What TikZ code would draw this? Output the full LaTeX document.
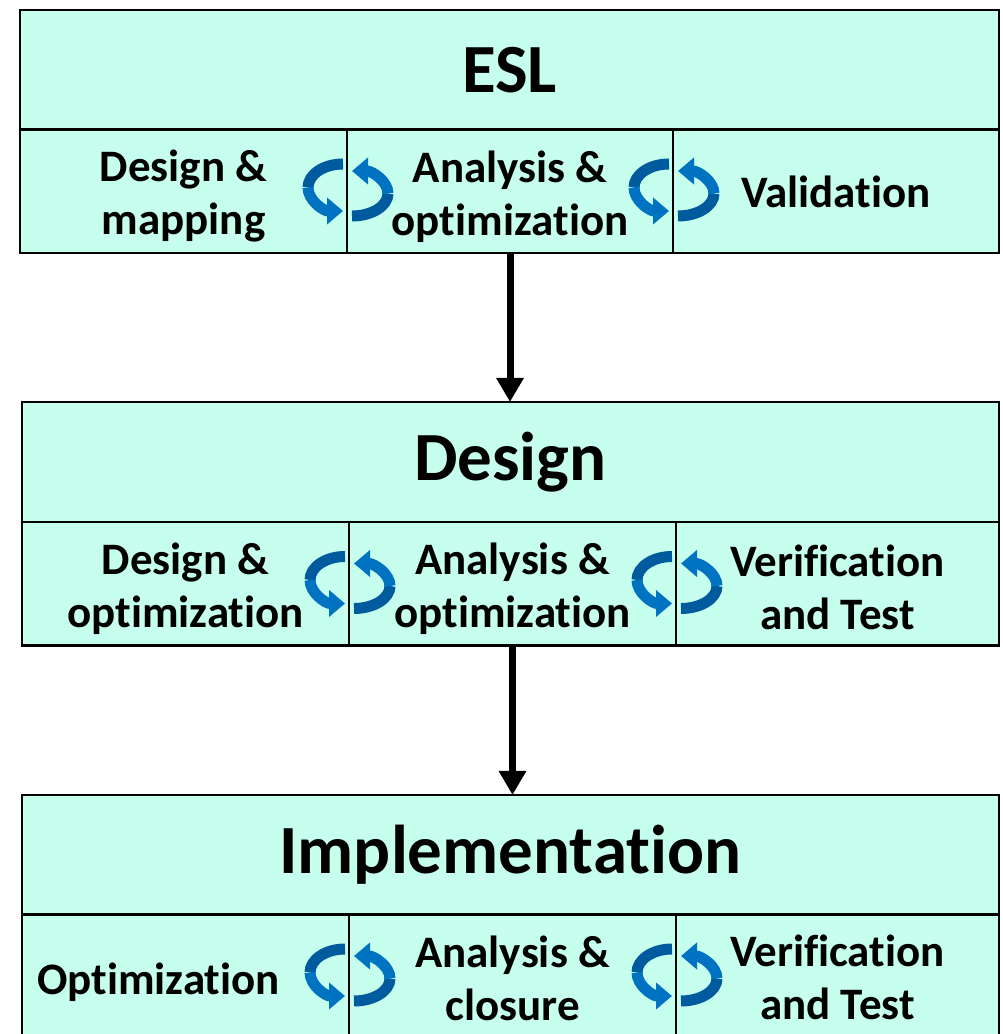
\documentclass[tikz,border=0pt]{standalone}
\usepackage{fontspec}
\setmainfont[Ligatures=NoCommon]{Carlito}
\usetikzlibrary{arrows.meta}
\definecolor{mint}{RGB}{198,255,238}
\definecolor{cyclight}{RGB}{0,114,194}
\definecolor{cycdark}{RGB}{0,90,158}
\newcommand\cyclepair[2]{%
  % left arrow (in the left cell): dark back half, light front half with tip
  \draw[cycline, cycdark] ({#1-4},{#2+27.5}) arc[start angle=90, end angle=180, x radius=35, y radius=23.5];
  \draw[cycline, cyclight, -{Triangle[width=26pt,length=16pt]}] ({#1-39},{#2+4}) arc[start angle=180, end angle=270, x radius=35, y radius=23.5];
  % right arrow (in the right cell)
  \draw[cycline, cycdark] ({#1+5},{#2-24.5}) arc[start angle=-90, end angle=0, x radius=36, y radius=22.5];
  \draw[cycline, cyclight, -{Triangle[width=26pt,length=16pt]}] ({#1+41},{#2-2}) arc[start angle=0, end angle=90, x radius=36, y radius=22.5];
}
\begin{document}
\begin{tikzpicture}[x=1pt,y=1pt,
  blk/.style={draw, line width=2.5pt, fill=mint, inner sep=0pt, outer sep=0pt},
  titlebox/.style={blk, minimum height=120pt, font=\bfseries\fontsize{69}{80}\selectfont},
  cellbox/.style={blk, minimum height=123.5pt},
  celltext/.style={align=center, inner sep=0pt, font=\bfseries\fontsize{45}{53}\selectfont},
  flow/.style={line width=7pt, -{Triangle[width=26pt,length=24pt]}},
  cycline/.style={line width=11pt}]
\useasboundingbox (0,0) rectangle (1003,1034);

% ESL block
\node[titlebox, minimum width=979pt] (esl) at (509.5,964) {ESL};
\node[cellbox, minimum width=327pt] (e1) at (183.5,842.5) {};
\node[cellbox, minimum width=326pt] (e2) at (510,842.5) {};
\node[cellbox, minimum width=326pt] (e3) at (836,842.5) {};
\node[celltext] (e1t) at ([yshift=-5pt]e1.center) {Design \&\\mapping};
\node[celltext] (e2t) at ([yshift=-5pt]e2.center) {Analysis \&\\optimization};
\node[celltext] (e3t) at (e3.center) {Validation};

% Design block
\node[titlebox, minimum width=977pt] (des) at (510.5,572) {Design};
\node[cellbox, minimum width=327pt] (d1) at (185.5,450) {};
\node[cellbox, minimum width=327pt] (d2) at (512.5,450) {};
\node[cellbox, minimum width=323pt] (d3) at (837.5,450) {};
\node[celltext] (d1t) at ([yshift=-5pt]d1.center) {Design \&\\optimization};
\node[celltext] (d2t) at ([yshift=-5pt]d2.center) {Analysis \&\\optimization};
\node[celltext] (d3t) at ([yshift=-3pt]d3.center) {Verification\\and Test};

% Implementation block
\node[titlebox, minimum width=977pt] (imp) at (510.5,179) {Implementation};
\node[cellbox, minimum width=327pt] (i1) at (185.5,57.5) {};
\node[cellbox, minimum width=327pt] (i2) at (512.5,57.5) {};
\node[cellbox, minimum width=323pt] (i3) at (837.5,57.5) {};
\node[celltext] (i1t) at ([xshift=-27pt,yshift=-6pt]i1.center) {Optimization};
\node[celltext] (i2t) at ([yshift=-2pt]i2.center) {Analysis \&\\closure};
\node[celltext] (i3t) at ([yshift=-1pt]i3.center) {Verification\\and Test};

% flow arrows
\draw[flow] (e2.south) -- (e2.south |- des.north);
\draw[flow] (d2.south) -- (d2.south |- imp.north);

% cycle arrows
\cyclepair{347}{842.5}
\cyclepair{673}{842.5}
\cyclepair{349}{450}
\cyclepair{676}{450}
\cyclepair{349}{57.5}
\cyclepair{676}{57.5}
\end{tikzpicture}
\end{document}
